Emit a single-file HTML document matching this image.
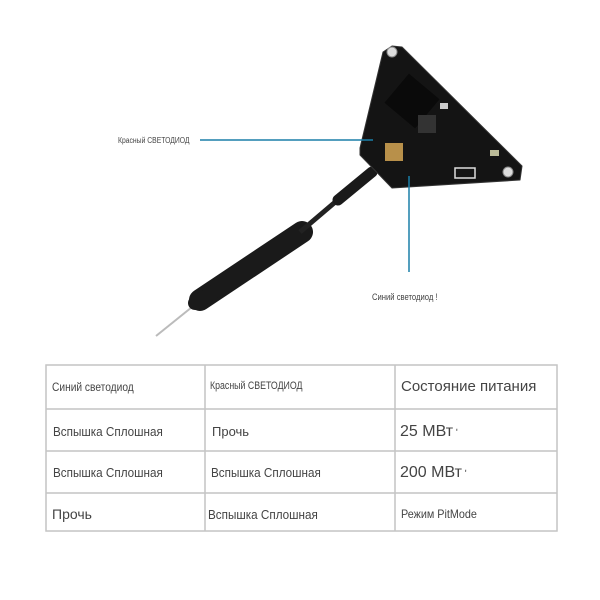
<!DOCTYPE html>
<html><head><meta charset="utf-8"><style>
body{margin:0;width:600px;height:600px;background:#fff;position:relative;overflow:hidden;font-family:"Liberation Sans",sans-serif;color:#444}
.t{position:absolute;white-space:nowrap}
</style></head><body>
<svg width="600" height="600" style="position:absolute;left:0;top:0">
<!-- antenna wire -->
<line x1="197" y1="303" x2="156" y2="336" stroke="#bbb" stroke-width="2"/>
<!-- tube -->
<line x1="200" y1="300" x2="302" y2="232" stroke="#1a1a1a" stroke-width="22" stroke-linecap="round"/>
<line x1="195" y1="303" x2="215" y2="291" stroke="#1a1a1a" stroke-width="14" stroke-linecap="round"/>
<!-- thin cable -->
<line x1="300" y1="232" x2="340" y2="198" stroke="#222" stroke-width="5"/>
<line x1="338" y1="200" x2="372" y2="172" stroke="#1a1a1a" stroke-width="11" stroke-linecap="round"/>
<!-- board -->
<polygon points="392,46 402,47 522,166 520,180 392,188 360,155 360,148 383,52" fill="#141414" stroke="#333" stroke-width="1" stroke-linejoin="round"/>
<rect x="392" y="82" width="40" height="38" fill="#0a0a0a" transform="rotate(40 412 101)"/>
<rect x="418" y="115" width="18" height="18" fill="#333"/>
<circle cx="392" cy="52" r="5" fill="#ddd" stroke="#888"/>
<circle cx="508" cy="172" r="5" fill="#ddd" stroke="#888"/>
<rect x="385" y="143" width="18" height="18" fill="#b8904a"/>
<rect x="440" y="103" width="8" height="6" fill="#ccc"/>
<rect x="490" y="150" width="9" height="6" fill="#bb9"/>
<rect x="455" y="168" width="20" height="10" fill="none" stroke="#ddd" stroke-width="1.5"/>
<!-- callouts -->
<line x1="200" y1="140" x2="373" y2="140" stroke="#1a7fa8" stroke-width="1.5"/>
<line x1="409" y1="176" x2="409" y2="272" stroke="#1a7fa8" stroke-width="1.5"/>
<!-- table -->
<g stroke="#c4c4c4" stroke-width="1.5" fill="none">
<rect x="46" y="365" width="511" height="166"/>
<line x1="46" y1="409" x2="557" y2="409"/>
<line x1="46" y1="451" x2="557" y2="451"/>
<line x1="46" y1="493" x2="557" y2="493"/>
<line x1="205" y1="365" x2="205" y2="531"/>
<line x1="395" y1="365" x2="395" y2="531"/>
</g>
</svg>
<div class="t" style="left:118px;top:136px;font-size:8px;transform:scaleX(0.85);transform-origin:left">Красный СВЕТОДИОД</div>
<div class="t" style="left:372px;top:292px;font-size:9px;transform:scaleX(0.85);transform-origin:left">Синий светодиод !</div>
<div class="t" style="left:52px;top:380px;font-size:12px;transform:scaleX(0.85);transform-origin:left">Синий светодиод</div>
<div class="t" style="left:210px;top:380px;font-size:11px;transform:scaleX(0.8);transform-origin:left">Красный СВЕТОДИОД</div>
<div class="t" style="left:401px;top:378px;font-size:15px">Состояние питания</div>
<div class="t" style="left:53px;top:424px;font-size:13px;transform:scaleX(0.9);transform-origin:left">Вспышка Сплошная</div>
<div class="t" style="left:212px;top:424px;font-size:13px">Прочь</div>
<div class="t" style="left:400px;top:423px;font-size:16px">25 МВт<span style="font-size:10px"> ʹ</span></div>
<div class="t" style="left:53px;top:465px;font-size:13px;transform:scaleX(0.9);transform-origin:left">Вспышка Сплошная</div>
<div class="t" style="left:211px;top:465px;font-size:13px;transform:scaleX(0.9);transform-origin:left">Вспышка Сплошная</div>
<div class="t" style="left:400px;top:464px;font-size:16px">200 МВт<span style="font-size:10px"> ʹ</span></div>
<div class="t" style="left:52px;top:506px;font-size:14px">Прочь</div>
<div class="t" style="left:208px;top:507px;font-size:13px;transform:scaleX(0.9);transform-origin:left">Вспышка Сплошная</div>
<div class="t" style="left:401px;top:507px;font-size:12px;transform:scaleX(0.9);transform-origin:left">Режим PitMode</div>
</body></html>
